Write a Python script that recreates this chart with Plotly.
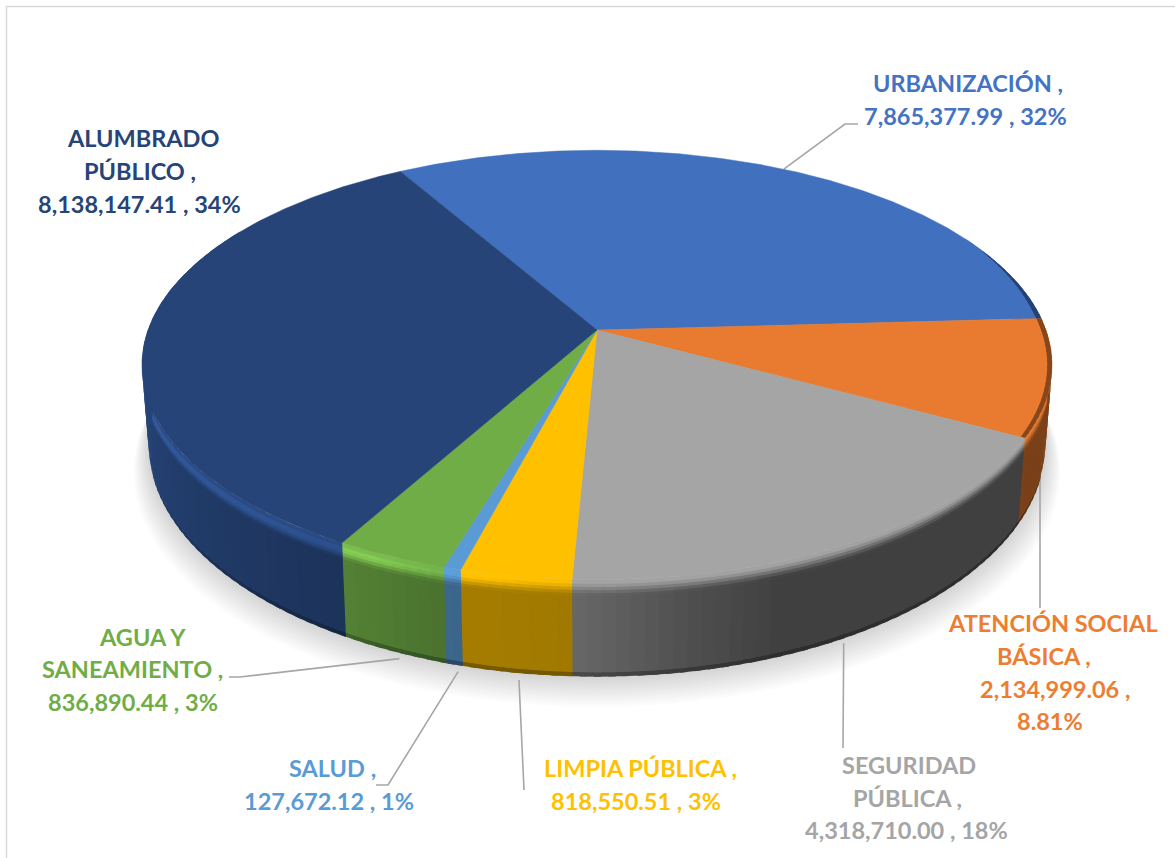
import numpy as np
import plotly.graph_objects as go

# ---------- data ----------
categories = ["URBANIZACIÓN", "ATENCIÓN SOCIAL BÁSICA", "SEGURIDAD PÚBLICA", "LIMPIA PÚBLICA",
              "SALUD", "AGUA Y SANEAMIENTO", "ALUMBRADO PÚBLICO"]
values = [7865377.99, 2134999.06, 4318710.00, 818550.51, 127672.12, 836890.44, 8138147.41]
colors = ["#4170BF", "#E97B30", "#A5A5A5", "#FFC000", "#5B9BD5", "#70AD47", "#264478"]

label_lines = [
    ["URBANIZACIÓN ,", "7,865,377.99 , 32%"],
    ["ATENCIÓN SOCIAL", "BÁSICA ,", "2,134,999.06 ,", "8.81%"],
    ["SEGURIDAD", "PÚBLICA ,", "4,318,710.00 , 18%"],
    ["LIMPIA PÚBLICA ,", "818,550.51 , 3%"],
    ["SALUD ,", "127,672.12 , 1%"],
    ["AGUA Y", "SANEAMIENTO ,", "836,890.44 , 3%"],
    ["ALUMBRADO", "PÚBLICO ,", "8,138,147.41 , 34%"],
]
label_text_colors = ["#4472C4", "#ED7D31", "#A5A5A5", "#FFC000", "#5B9BD5", "#70AD47", "#264478"]

# ---------- layout of the drawing (pixels) ----------
label_pos = [
    [(968, 83), (965, 116)],
    [(1053, 623), (1044, 656), (1055, 689), (1050, 721)],
    [(909, 765), (907, 798), (906, 830)],
    [(640, 768), (636, 801)],
    [(332, 768), (329, 801)],
    [(142, 637), (132, 669), (133, 702)],
    [(143, 138), (140, 171), (139, 204)],
]
leader_tail = [
    [(845, 124), (858, 124)],
    [(1040, 480), (1040, 608)],
    [(843, 748)],
    [(524, 790)],
    [(388, 785), (376, 785)],
    [(240, 677), (229, 677)],
    [],
]
CX, CY = 597.0, 330.0
A, B, K = 449.0, 209.0, 0.163
SX, SY, DY = 0.985, 1.08, 77.0
START = -30.0
FONT = "Lato"


def face(theta_deg):
    t = np.radians(theta_deg)
    u, v = np.sin(t), -np.cos(t)
    d = 1 - K * v
    return A * u / d, B * v / d


def ring(theta_deg, w):
    X, Y = face(theta_deg)
    return CX + X * (1 - (1 - SX) * w), CY + Y * (1 + (SY - 1) * w) + DY * w


def rgb(h):
    return np.array([int(h[i:i + 2], 16) for i in (1, 3, 5)], float)


def css(c):
    c = np.clip(c, 0, 255).round().astype(int)
    return f"rgb({c[0]},{c[1]},{c[2]})"


def wall_shade(th):
    return np.interp(th, [60, 118.4, 118.6, 160, 170, 183, 195, 205, 220, 260, 300],
                     [.55, .52, .39, .39, .48, .63, .65, .72, .80, 1, 1])


def highlight(th):
    return np.interp(th, [150, 185, 195, 205, 212, 225, 260, 285, 300],
                     [0, 0, .06, .16, .16, .18, .18, .05, 0])


def edge_dark(th):
    return np.interp(th, [60, 200, 235, 262], [.72, .72, .85, 1])


def poly(xs, ys, color):
    return go.Scatter(x=list(xs), y=list(ys), mode="lines", fill="toself", fillcolor=color,
                      line=dict(width=0), hoverinfo="skip", showlegend=False)


total = sum(values)
edges = START + np.concatenate([[0], np.cumsum(values)]) / total * 360.0
traces = []

# soft shadow under the pie
th_all = np.linspace(0, 360, 181)
for i in range(14):
    s = (14 - i) / 14
    bx, by = ring(th_all, 1)
    px = CX + (bx - CX) * (1 + 0.034 * s)
    py = CY + (by - CY) * (1 + 0.012 * s) + 26 * s
    traces.append(go.Scatter(x=px, y=py, mode="lines", fill="toself", fillcolor="rgba(0,0,0,0.013)",
                             line=dict(width=0), hoverinfo="skip", showlegend=False))

# leader lines (they start on the slice's mid angle, behind the walls)
for i in range(len(values)):
    if not leader_tail[i]:
        continue
    mid = (edges[i] + edges[i + 1]) / 2
    X, Y = face(mid)
    if np.cos(np.radians(mid)) > 0.5:
        p0 = (CX + X, CY + Y)
    else:
        p0 = (CX + X * 0.96, CY + Y * SY + DY + 7)
    pts = [p0] + leader_tail[i]
    traces.append(go.Scatter(x=[p[0] for p in pts], y=[p[1] for p in pts], mode="lines",
                             line=dict(color="#A6A6A6", width=1.6), hoverinfo="skip", showlegend=False))

# side walls with bevel: each quad overlaps the next so no seams show
bevel_w = np.linspace(0, 0.16, 6)
OVER_A, OVER_W = 0.8, 0.012
for i, base in enumerate(colors):
    c0 = rgb(base)
    a0, a1 = edges[i], edges[i + 1]
    n = max(1, int(np.ceil((a1 - a0) / 1.6)))
    ths = np.linspace(a0, a1, n + 1)
    for t0, t1 in zip(ths[:-1], ths[1:]):
        m = (t0 + t1) / 2
        if m < 75 or m > 300:
            continue
        wall = c0 * wall_shade(m)
        h = highlight(m)
        ext = t1 + OVER_A

        def quad(w0, w1, col):
            x0, y0 = ring(t0, w0); x1, y1 = ring(ext, w0)
            x2, y2 = ring(ext, w1); x3, y3 = ring(t0, w1)
            traces.append(poly([x0, x1, x2, x3, x0], [y0, y1, y2, y3, y0], css(col)))

        quad(0.95, 1.0, wall * edge_dark(m))
        quad(bevel_w[-1], 0.95 + OVER_W * 0.5, wall)
        for w0, w1 in list(zip(bevel_w[:-1], bevel_w[1:]))[::-1]:
            t = ((w0 + w1) / 2) / bevel_w[-1]
            s = t * t * (3 - 2 * t)
            col = (c0 * (1 - s) + wall * s) * (1 + 2 * h * np.sin(np.pi * t))
            quad(w0, w1 + OVER_W, col)

# top face
for i, base in enumerate(colors):
    th = np.linspace(edges[i], edges[i + 1], max(3, int((edges[i + 1] - edges[i]) * 2)))
    X, Y = face(th)
    xs = np.concatenate([[CX], CX + X, [CX]])
    ys = np.concatenate([[CY], CY + Y, [CY]])
    traces.append(go.Scatter(x=list(xs), y=list(ys), mode="lines", fill="toself", fillcolor=base,
                             line=dict(color=base, width=0.5), hoverinfo="skip", showlegend=False))

# dark fringe on the right-hand rim of the top face
for i, base in enumerate(colors[:2]):
    c0 = rgb(base)
    a0, a1 = max(edges[i], 62), min(edges[i + 1], 118.4)
    ths = np.linspace(a0, a1, int((a1 - a0) / 1.5) + 2)
    for t0, t1 in zip(ths[:-1], ths[1:]):
        m = (t0 + t1) / 2
        e = 0.011 * np.interp(m, [62, 84, 118], [0, 1, 0.9])
        if e <= 0:
            continue
        X0, Y0 = face(t0)
        X1, Y1 = face(min(t1 + 0.5, a1))
        xs = [CX + X0, CX + X1, CX + X1 * (1 - e), CX + X0 * (1 - e), CX + X0]
        ys = [CY + Y0, CY + Y1, CY + Y1 * (1 - e), CY + Y0 * (1 - e), CY + Y0]
        traces.append(poly(xs, ys, css(c0 * 0.58)))

fig = go.Figure(traces)

annotations = []
for lines, poss, col in zip(label_lines, label_pos, label_text_colors):
    for text, (x, y) in zip(lines, poss):
        annotations.append(dict(x=x, y=y, text=f"<b>{text}</b>", showarrow=False, xanchor="center",
                                yanchor="middle", font=dict(family=FONT, size=23.5, color=col)))

fig.update_layout(
    width=1175, height=858, margin=dict(l=0, r=0, t=0, b=0, pad=0),
    paper_bgcolor="white", plot_bgcolor="white", showlegend=False,
    xaxis=dict(range=[0, 1175], visible=False, fixedrange=True),
    yaxis=dict(range=[858, 0], visible=False, fixedrange=True),
    annotations=annotations,
    shapes=[dict(type="rect", x0=6.5, y0=6.5, x1=1300, y1=1000, line=dict(color="#D9D9D9", width=1.5),
                 layer="below")],
)
fig.write_html("out.html", config={"displayModeBar": False},
               post_script="document.body.style.margin='0';document.documentElement.style.overflow='hidden';")
